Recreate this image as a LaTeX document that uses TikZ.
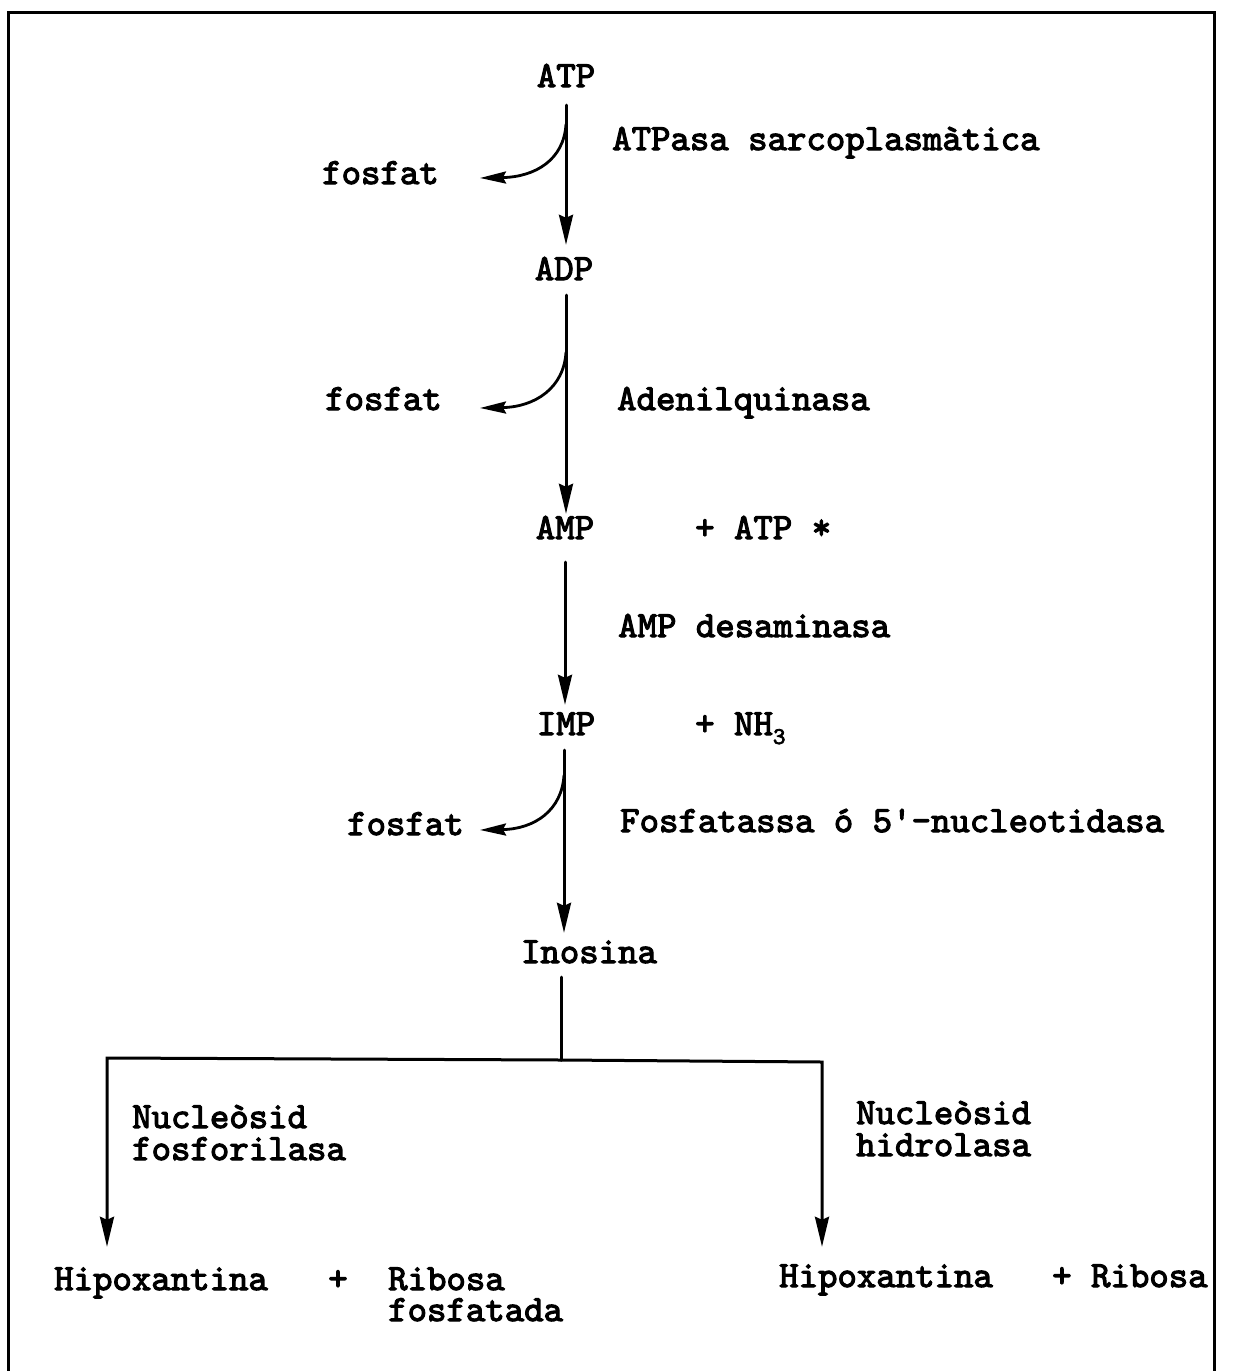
\documentclass[tikz,border=0pt]{standalone}
\usepackage{fontspec}
\newfontfamily\tw{lmmono10-regular.otf}[FakeBold=3]
\usetikzlibrary{arrows.meta,calc}
\tikzset{
  txt/.style={inner sep=0pt, font=\fontsize{37}{32}\selectfont\tw},
  species/.style={txt, anchor=base, text height=20pt, text depth=0pt},
  lbl/.style={txt, anchor=base west},
  line/.style={line width=3pt, line cap=round},
  arr/.style={line, -{Stealth[length=30pt,width=14pt,inset=3pt]}},
  carr/.style={line width=2.8pt, -{Stealth[length=26pt,width=12pt,inset=3pt]}},
}
\begin{document}
\begin{tikzpicture}[x=1pt,y=-1pt]
\useasboundingbox (0,0) rectangle (1235,1371);
\fill[white] (0,0) rectangle (1235,1371);
% frame
\draw[line width=3pt] (8,1380) -- (8,12) -- (1214,12) -- (1214,1380);

% species
\node[species] (ATP) at (566,87) {ATP};
\node[species] (ADP) at (564,280) {ADP};
\node[species] (AMP) at (565,539) {AMP};
\node[species] (IMP) at (566,735) {IMP};
\node[species] (Ino) at (589,963) {Inosina};

% side products
\node[lbl] (f1) at (322,184) {fosfat};
\node[lbl] (f2) at (325,410) {fosfat};
\node[lbl] (f3) at (347,835) {fosfat};
\node[lbl] (patp) at (695,539) {+ ATP *};
\node[lbl] (nh3) at (695,735) {+ NH\raisebox{-9pt}{\fontsize{24}{24}\selectfont 3}};

% enzymes
\node[lbl] (e1) at (612,150) {ATPasa sarcoplasmàtica};
\node[lbl] (e2) at (617,410) {Adenilquinasa};
\node[lbl] (e3) at (618,637) {AMP desaminasa};
\node[lbl] (e4) at (620,832) {Fosfatassa ó 5'-nucleotidasa};
\node[lbl] (e5) at (132,1128) {\vtop{\hbox{Nucleòsid}\hbox{fosforilasa}}};
\node[lbl] (e6) at (856,1124) {\vtop{\hbox{Nucleòsid}\hbox{hidrolasa}}};

% products
\node[lbl, text height=20pt] (H1) at (54,1290) {Hipoxantina};
\node[txt, anchor=base] (p1) at (338,1290) {+};
\node[lbl] (R1) at (388,1290) {\vtop{\baselineskip=31pt\hbox{Ribosa}\hbox{fosfatada}}};
\node[lbl, text height=20pt] (H2) at (779,1287) {Hipoxantina};
\node[lbl] (R2) at (1052,1287) {+ Ribosa};

% main chain
\draw[arr, shorten <=18pt, shorten >=15pt] (ATP.south) -- (ATP.south |- ADP.north);
\draw[arr, shorten <=15pt, shorten >=5pt] (ATP.south |- ADP.south) -- (ATP.south |- AMP.north);
\draw[arr, shorten <=23pt, shorten >=10pt] (AMP.south) -- (AMP.south |- IMP.north);
\draw[arr, shorten <=15pt, shorten >=10pt] (IMP.south -| 564,0) -- (564,0 |- Ino.north);

% phosphate branches
\coordinate (b1) at (566,124);
\coordinate (t1) at (480,178);
\draw[carr] (b1) .. controls (564,160) and (535,177) .. (t1);
\coordinate (b2) at (566,352);
\coordinate (t2) at (480,408);
\draw[carr] (b2) .. controls (564,388) and (535,407) .. (t2);
\coordinate (b3) at (564,775);
\coordinate (t3) at (480,830);
\draw[carr] (b3) .. controls (562,810) and (535,829) .. (t3);

% split
\coordinate (j) at (561,1060);
\coordinate (jl) at (107,1058);
\coordinate (jr) at (822,1062);
\draw[line, shorten <=14pt] (Ino.south -| j) -- (j);
\draw[arr, shorten >=23pt] (j) -- (jl) -- (jl |- H1.north);
\draw[arr, shorten >=20pt] (j) -- (jr) -- (jr |- H2.north);
\end{tikzpicture}
\end{document}
